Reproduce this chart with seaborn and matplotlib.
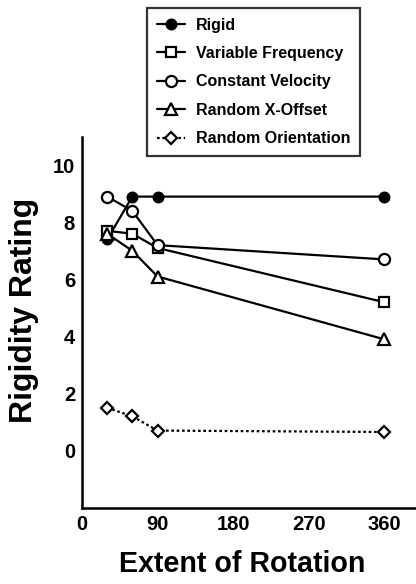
import matplotlib
matplotlib.use("Agg")
import matplotlib.pyplot as plt
import seaborn as sns
import pandas as pd

rotation = [30, 60, 90, 360]
rigid = [7.4, 8.9, 8.9, 8.9]
variable_frequency = [7.7, 7.6, 7.1, 5.2]
constant_velocity = [8.9, 8.4, 7.2, 6.7]
random_x_offset = [7.6, 7.0, 6.1, 3.9]
random_orientation = [1.5, 1.2, 0.7, 0.65]

series_names = ["Rigid", "Variable Frequency", "Constant Velocity",
                "Random X-Offset", "Random Orientation"]
series_values = [rigid, variable_frequency, constant_velocity,
                 random_x_offset, random_orientation]
x_ticks = [0, 90, 180, 270, 360]
y_ticks = [0, 2, 4, 6, 8, 10]

sns.set_style("white")
plt.rcParams['font.family'] = ['Liberation Sans', 'DejaVu Sans']
plt.rcParams['font.weight'] = 'bold'
plt.rcParams['text.color'] = 'black'
plt.rcParams['axes.labelcolor'] = 'black'
plt.rcParams['xtick.color'] = 'black'
plt.rcParams['ytick.color'] = 'black'

fig = plt.figure(figsize=(4.16, 5.84), dpi=100)
ax = fig.add_axes([82/416, (584-507.6)/584, (416-82)/416, (507.6-136.7)/584])

markers = ['o', 's', 'o', '^', 'D']
facecolors = ['black', 'white', 'white', 'white', 'white']
sizes = [7, 7.5, 8, 8, 6]
linestyles = ['-', '-', '-', '-', (0, (1.2, 1.2))]

df = pd.DataFrame({"x": rotation})
for name, vals, m, fc, ms, ls in zip(series_names, series_values, markers,
                                     facecolors, sizes, linestyles):
    df[name] = vals
    sns.lineplot(data=df, x="x", y=name, ax=ax, color='black', marker=m,
                 markerfacecolor=fc, markeredgecolor='black', markeredgewidth=1.6,
                 markersize=ms, linewidth=1.6, linestyle=ls, label=name)

ax.set_xlim(0, 398)
ax.set_ylim(-2, 11)
ax.set_xticks(x_ticks)
ax.set_yticks(y_ticks)
ax.tick_params(direction='inout', length=6, width=1.5, labelsize=14.5, pad=2,
               colors='black')
for lab in ax.get_xticklabels() + ax.get_yticklabels():
    lab.set_fontweight('bold')
for s in ['top', 'right']:
    ax.spines[s].set_visible(False)
for s in ['left', 'bottom']:
    ax.spines[s].set_linewidth(1.8)
    ax.spines[s].set_color('black')

ax.set_xlabel("Extent of Rotation", fontsize=20.6, fontweight='bold', color='black')
ax.xaxis.set_label_coords((242.5 - 82) / (416 - 82), -0.115)
ax.set_ylabel("Rigidity Rating", fontsize=23, fontweight='bold', color='black')
ax.yaxis.set_label_coords(-0.13, 0.533)

handles, labels = ax.get_legend_handles_labels()
ax.get_legend().remove()
leg = fig.legend(handles, labels, loc='upper left',
                 bbox_to_anchor=(147/416, 1 - 8/584),
                 frameon=True, fancybox=False, edgecolor='black',
                 prop={'weight': 'bold', 'size': 11.5},
                 handlelength=1.8, handletextpad=0.65, labelspacing=0.84,
                 borderpad=0.6, borderaxespad=0)
leg.get_frame().set_linewidth(1.6)
for t in leg.get_texts():
    t.set_color('black')

fig.savefig("out.png", dpi=100)
